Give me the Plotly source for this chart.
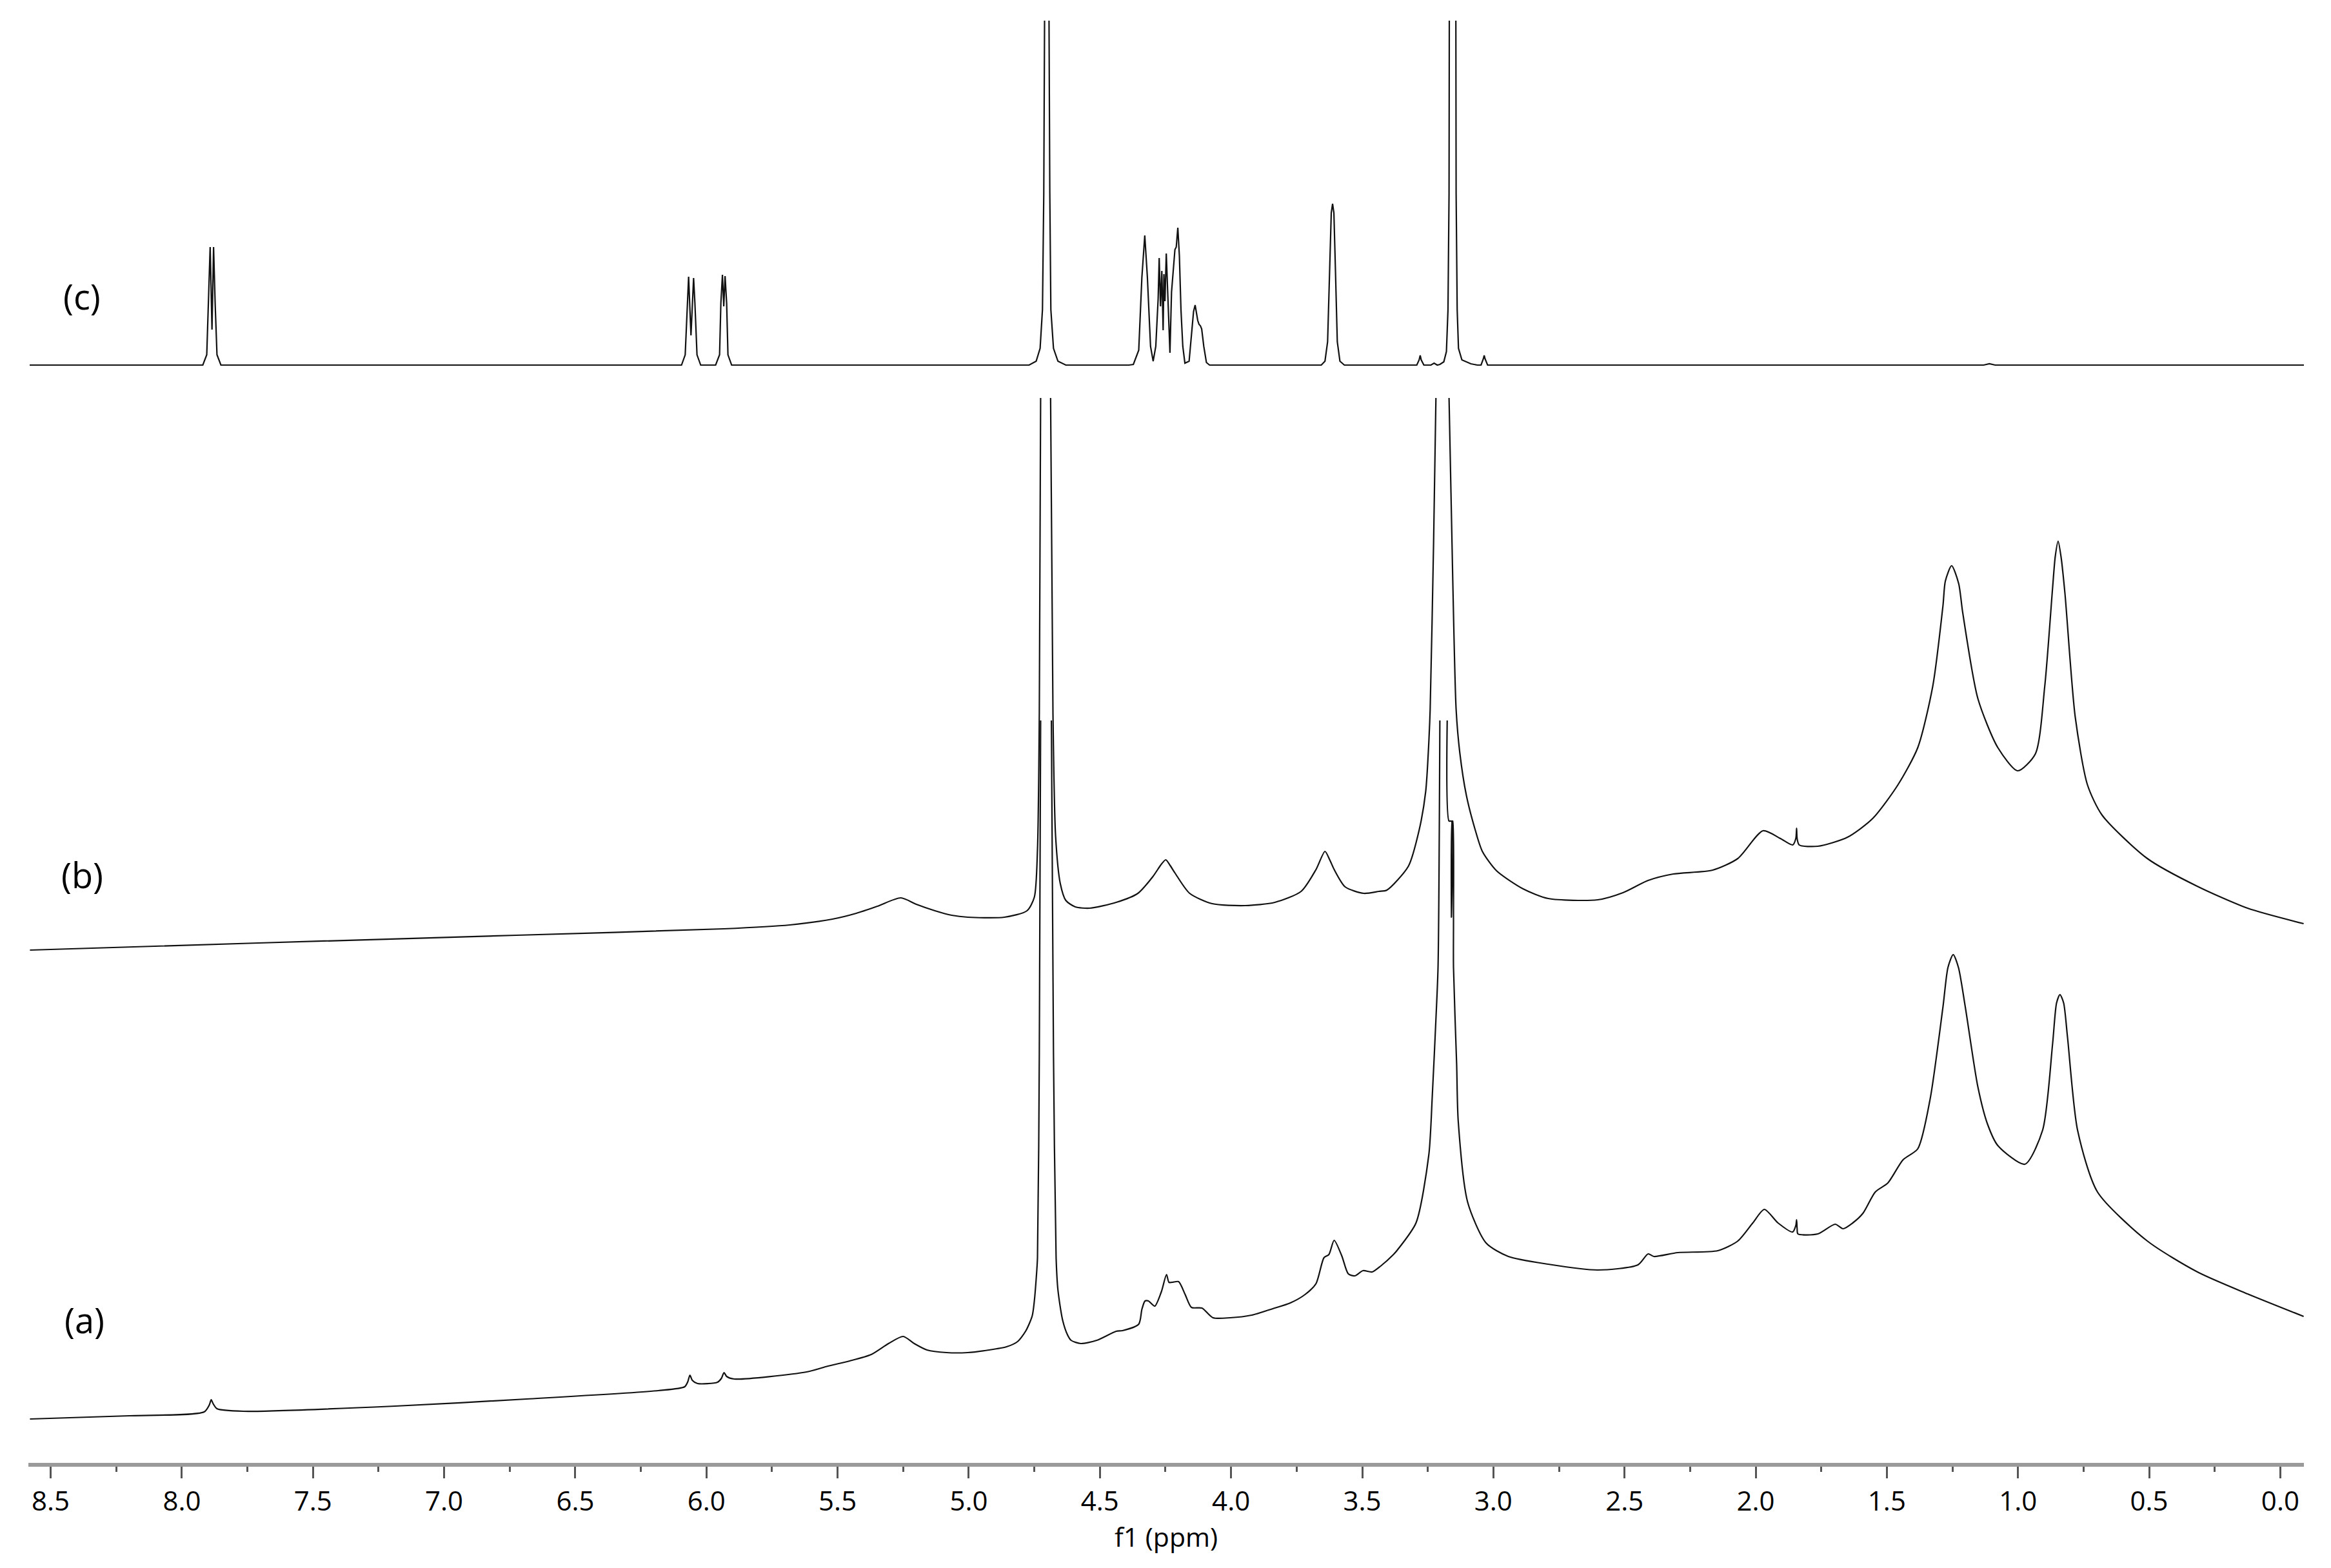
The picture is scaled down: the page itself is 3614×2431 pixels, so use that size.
import plotly.graph_objects as go

# ---- spectrum (c) ----
ppm_c = [8.58,
         7.920, 7.905, 7.898, 7.892, 7.885, 7.879, 7.873, 7.866, 7.851,
         6.095, 6.081, 6.073, 6.068, 6.059, 6.049, 6.044, 6.036, 6.022,
         5.965, 5.950, 5.945, 5.939, 5.934, 5.929, 5.923, 5.918, 5.904,
         4.770, 4.743, 4.728, 4.719, 4.714, 4.711, None, 4.694, 4.691, 4.687, 4.677, 4.660, 4.630,
         4.389, 4.3725, 4.352, 4.340, 4.329, 4.319, 4.307, 4.297, 4.287, 4.278, 4.274, 4.269,
         4.264, 4.259, 4.256, 4.252, 4.247, 4.240, 4.233, 4.227, 4.214, 4.209, 4.203, 4.197,
         4.191, 4.184, 4.176, 4.160, 4.150, 4.143, 4.137, 4.132, 4.127, 4.122, 4.117, 4.112,
         4.104, 4.094, 4.082,
         3.656, 3.642, 3.632, 3.624, 3.618, 3.613, 3.608, 3.602, 3.595, 3.585, 3.568,
         3.292, 3.283, 3.279, 3.275, 3.265,
         3.238, 3.226, 3.214,
         3.204, 3.189, 3.179, 3.173, 3.169, 3.168, None, 3.143, 3.142, 3.138, 3.133, 3.120, 3.086, 3.061,
         3.047, 3.038, 3.035, 3.032, 3.022,
         1.131, 1.109, 1.087,
         -0.09]
int_c = [1705,
         1705, 1721, 1801, 1888, 1760, 1888, 1801, 1721, 1705,
         1705, 1721, 1801, 1842, 1751, 1840, 1801, 1721, 1705,
         1705, 1721, 1801, 1845, 1796, 1843, 1801, 1721, 1705,
         1705, 1711, 1731, 1791, 1971, 2239, None, 2239, 1971, 1791, 1731, 1711, 1705,
         1705, 1706, 1728, 1841, 1906, 1841, 1734, 1711, 1734, 1808, 1871, 1796,
         1851, 1759, 1846, 1804, 1878, 1791, 1724, 1818, 1884, 1888, 1918, 1874,
         1791, 1734, 1708, 1711, 1754, 1788, 1798, 1784, 1774, 1768, 1766, 1761,
         1734, 1709, 1705,
         1705, 1711, 1741, 1851, 1941, 1955, 1941, 1851, 1741, 1711, 1705,
         1705, 1713, 1720, 1713, 1705,
         1705, 1708, 1705,
         1706, 1710, 1726, 1791, 1971, 2239, None, 2239, 1971, 1791, 1731, 1713, 1707, 1705,
         1705, 1715, 1720, 1715, 1705,
         1705, 1707, 1705,
         1705]

# ---- spectrum (b) ----
ppm_b = [8.579, 7.708, 6.725, 5.933, 5.682, 5.520, 5.429, 5.348, 5.259, 5.200, 5.129, 5.065,
         5.004, 4.864, 4.778, 4.750, 4.738, 4.731, 4.726, None, 4.688, 4.679, 4.669, 4.651,
         4.630, 4.594, 4.539, 4.438, 4.355, 4.298, 4.266, 4.249, 4.232, 4.213, 4.158, 4.072,
         3.946, 3.833, 3.733, 3.676, 3.642, 3.624, 3.607, 3.565, 3.494, 3.437, 3.406, 3.324,
         3.283, 3.258, 3.246, 3.241, 3.228, 3.219, None, 3.169, 3.155, 3.142, 3.128, 3.103,
         3.069, 3.042, 2.988, 2.887, 2.791, 2.602, 2.506, 2.410, 2.314, 2.164, 2.068, 1.972,
         1.906, 1.859, 1.847, 1.844, 1.842, 1.834, 1.763, 1.650, 1.554, 1.458, 1.382, 1.325,
         1.286, 1.277, 1.253, 1.226, 1.211, 1.153, 1.077, 1.001, 0.934, 0.898, 0.868, 0.858,
         0.847, 0.836, 0.821, 0.782, 0.735, 0.679, 0.507, 0.317, 0.125, -0.089]
int_b = [798, 809, 821, 831, 837, 846, 855, 866, 879, 869, 859, 852,
         849, 849, 859, 880, 954, 1165, 1654, None, 1654, 1165, 975, 901,
         875, 865, 863, 872, 886, 912, 931, 938, 929, 917, 886, 870,
         867, 872, 889, 923, 951, 938, 923, 896, 886, 889, 891, 928,
         984, 1044, 1121, 1171, 1428, 1654, None, 1654, 1375, 1171, 1104, 1038,
         984, 951, 921, 893, 878, 876, 887, 906, 916, 922, 940, 983,
         971, 961, 971, 987, 971, 961, 959, 973, 1002, 1054, 1112, 1207,
         1332, 1370, 1394, 1366, 1322, 1188, 1112, 1076, 1102, 1207, 1360, 1408,
         1432, 1408, 1351, 1160, 1054, 1007, 940, 897, 863, 839]

# ---- spectrum (a) ----
ppm_a = [8.579, 8.200, 7.915, 7.895, 7.888, 7.881, 7.866, 7.765, 7.187, 6.686, 6.184, 6.083,
         6.071, 6.063, 6.054, 6.034, 5.958, 5.943, 5.933, 5.923, 5.894, 5.618, 5.537, 5.454,
         5.372, 5.306, 5.250, 5.208, 5.159, 5.085, 5.004, 4.923, 4.856, 4.814, 4.782, 4.758,
         4.750, 4.743, 4.738, 4.731, 4.726, None, 4.685, 4.677, 4.667, 4.660, 4.642, 4.623,
         4.610, 4.573, 4.512, 4.438, 4.414, 4.352, 4.340, 4.328, 4.315, 4.291, 4.266, 4.246,
         4.237, 4.224, 4.200, 4.175, 4.151, 4.111, 4.069, 4.003, 3.922, 3.841, 3.774, 3.718,
         3.676, 3.646, 3.627, 3.607, 3.578, 3.553, 3.528, 3.497, 3.462, 3.430, 3.381, 3.366,
         3.295, 3.246, 3.233, 3.219, 3.211, 3.204, None, 3.176, 3.169, 3.160, 3.160, 3.157,
         3.155, 3.152, 3.152, 3.140, 3.134, 3.098, 3.028, 2.943, 2.791, 2.602, 2.449, 2.410,
         2.388, 2.297, 2.144, 2.068, 2.011, 1.967, 1.915, 1.859, 1.847, 1.844, 1.842, 1.839,
         1.763, 1.697, 1.667, 1.630, 1.591, 1.544, 1.496, 1.438, 1.382, 1.335, 1.286, 1.267,
         1.247, 1.227, 1.201, 1.153, 1.116, 1.077, 0.974, 0.906, 0.868, 0.853, 0.840, 0.826,
         0.811, 0.773, 0.697, 0.507, 0.316, 0.125, -0.089]
int_a = [71, 76, 82, 93, 101, 95, 87, 83, 91, 102, 115, 121,
         129, 139, 131, 126, 128, 134, 143, 137, 133, 144, 153, 161,
         171, 188, 199, 188, 178, 174, 174, 178, 183, 191, 208, 231,
         254, 288, 321, 638, 1154, None, 1154, 638, 321, 271, 224, 201,
         193, 188, 193, 207, 208, 218, 241, 254, 254, 246, 268, 295,
         283, 283, 284, 264, 244, 243, 228, 228, 232, 242, 251, 264,
         281, 321, 326, 348, 324, 296, 293, 301, 299, 308, 326, 333,
         375, 481, 571, 691, 771, 1154, None, 1154, 998, 998, 849, 998,
         998, 849, 771, 621, 533, 407, 344, 323, 311, 302, 310, 327,
         323, 329, 332, 347, 375, 396, 375, 361, 371, 380, 366, 358,
         358, 373, 366, 375, 390, 423, 437, 473, 490, 567, 710, 771,
         791, 771, 710, 586, 528, 495, 466, 519, 653, 716, 729, 716,
         662, 519, 423, 347, 299, 265, 230]

labels = ["(c)", "(b)", "(a)"]
label_ppm = [8.382, 8.380, 8.370]
label_int = [1812, 915, 225]

FONT = "Open Sans"

fig = go.Figure()
for xs, ys, shp in [(ppm_a, int_a, "spline"), (ppm_b, int_b, "spline"), (ppm_c, int_c, "linear")]:
    fig.add_trace(go.Scatter(x=xs, y=ys, mode="lines", connectgaps=False,
                             line=dict(color="#111111", width=2.2, shape=shp, smoothing=0.7),
                             hoverinfo="skip", showlegend=False))

for t, xp, yp in zip(labels, label_ppm, label_int):
    fig.add_annotation(x=xp, y=yp, xref="x", yref="y", text=t, showarrow=False,
                       xanchor="center", yanchor="middle",
                       font=dict(family=FONT, size=54, color="#000000"))

fig.update_layout(
    width=3606, height=2423,
    margin=dict(l=36, r=42, t=22, b=163, pad=0),
    paper_bgcolor="white", plot_bgcolor="white",
    showlegend=False,
    xaxis=dict(
        range=[8.585, -0.09], tick0=0, dtick=0.5, tickformat=".1f",
        showgrid=False, zeroline=False,
        showline=True, linecolor="#9a9a9a", linewidth=6,
        ticks="outside", ticklen=18, tickwidth=3, tickcolor="#555555",
        tickfont=dict(family=FONT, size=42, color="#000000"),
        minor=dict(dtick=0.25, tick0=0, ticks="outside", ticklen=8, tickwidth=3,
                   tickcolor="#555555", showgrid=False),
        title=dict(text="f1 (ppm)", font=dict(family=FONT, size=41, color="#000000"),
                   standoff=8),
        fixedrange=True,
    ),
    yaxis=dict(range=[3, 2241], visible=False, showgrid=False, zeroline=False,
               fixedrange=True),
)

fig.write_html("out.html", config={"displayModeBar": False})
